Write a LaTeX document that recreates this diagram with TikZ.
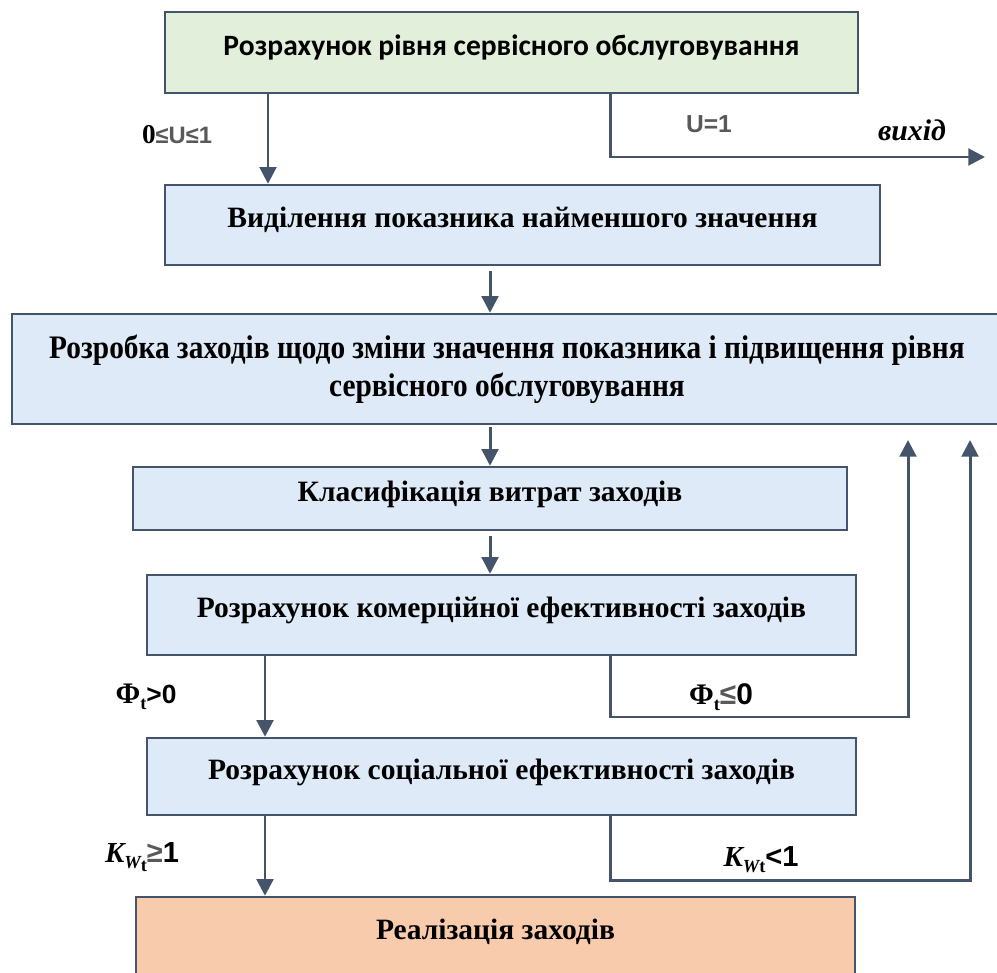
\documentclass[tikz,border=0pt]{standalone}
\usepackage{fontspec}
\setmainfont{Liberation Serif}
\setsansfont{Liberation Sans}
\newfontfamily\calibri{Carlito}
\usepackage{tikz}
\usetikzlibrary{arrows.meta}
\definecolor{edgeblue}{HTML}{44546A}
\definecolor{greenfill}{HTML}{E2EFDA}
\definecolor{bluefill}{HTML}{DEEAF7}
\definecolor{orangefill}{HTML}{F8CBAD}
\definecolor{signgray}{HTML}{595959}
\tikzstyle{block} = [rectangle, draw=edgeblue, line width=1.4pt, fill=bluefill, text centered, inner sep=0pt, font=\fontsize{16.8}{20}\selectfont\bfseries, text height=12pt, text depth=9pt]
\tikzstyle{line} = [draw=edgeblue, line width=1.7pt]
\tikzstyle{arrow} = [line, -{Stealth[inset=0pt, length=9.5pt, width=9.5pt]}]
\tikzstyle{cond} = [inner sep=0pt, font=\fontsize{14}{16}\selectfont\bfseries]
\newcommand{\sgn}[1]{{\sffamily\color{signgray}#1}}
\newcommand{\sub}[1]{\raisebox{-0.45ex}{\fontsize{10.5}{12}\selectfont #1}}

\begin{document}
\begin{tikzpicture}[x=0.02cm, y=-0.02cm]
		\useasboundingbox (0,0) rectangle (997,973);
		\node (Level)[block, fill=greenfill, minimum width=13.86cm, minimum height=1.62cm, font=\fontsize{16.8}{20}\selectfont\calibri\bfseries] at (511.5,52.5) {Розрахунок рівня сервісного обслуговування};
		\node (Lowest)[block, minimum width=14.3cm, minimum height=1.6cm] at (522.5,225) {Виділення показника найменшого значення};
		\node (Measures)[block, minimum width=19.8cm, minimum height=2.2cm, align=center, text height=, text depth=, font=\fontsize{16.7}{21.5}\selectfont\bfseries] at (507,369) {\scalebox{1}[1.12]{Розробка заходів щодо зміни значення показника і підвищення рівня}\\\scalebox{1}[1.12]{сервісного обслуговування}};
		\node (Costs)[block, minimum width=14.28cm, minimum height=1.26cm] at (490,498.5) {Класифікація витрат заходів};
		\node (Commercial)[block, minimum width=14.18cm, minimum height=1.6cm] at (501.5,615) {Розрахунок комерційної ефективності заходів};
		\node (Social)[block, minimum width=14.18cm, minimum height=1.54cm] at (501.5,776.5) {Розрахунок соціальної ефективності заходів};
		\node (Realize)[block, fill=orangefill, minimum width=14.38cm, minimum height=1.6cm] at (495.5,937) {Реалізація заходів};
		% turning points of the branches
		\coordinate (xmain) at (268,0);
		\coordinate (xmid) at (490,0);
		\coordinate (xleft) at (265,0);
		\coordinate (exit turn) at (610,157);
		\coordinate (exit) at (985,157);
		\coordinate (phi turn) at (610,717);
		\coordinate (phi back) at (908,440);
		\coordinate (kw turn) at (610,880);
		\coordinate (kw back) at (970,440);
		\draw [arrow] (Level.south -| xmain) -- (Lowest.north -| xmain);
		\draw [arrow] (Level.south -| exit turn) -- (exit turn) -- (exit);
		\draw [arrow, shorten <=3pt] (Lowest.south -| xmid) -- (Measures.north -| xmid);
		\draw [arrow, shorten <=1pt] (Measures.south -| xmid) -- (Costs.north -| xmid);
		\draw [arrow, shorten <=3pt] (Costs.south -| xmid) -- (Commercial.north -| xmid);
		\draw [arrow] (Commercial.south -| xleft) -- (Social.north -| xleft);
		\draw [arrow] (Commercial.south -| phi turn) -- (phi turn) -| (phi back);
		\draw [arrow] (Social.south -| xleft) -- (Realize.north -| xleft);
		\draw [arrow] (Social.south -| kw turn) -- (kw turn) -| (kw back);
		% branch conditions
		\node (Range)[cond, font=\fontsize{13}{15}\selectfont\bfseries] at (177,135) {\rmfamily\fontsize{15.5}{17}\selectfont 0\sgn{\fontsize{13.5}{15}\selectfont ≤U≤1}};
		\node (One)[cond] at (709,124) {\sgn{U=1}};
		\node (Out)[cond, font=\fontsize{17}{19}\selectfont\bfseries\itshape] at (912,130) {вихід};
		\node (Phi pos)[cond] at (146,697) {\fontsize{17}{19}\selectfont Φ\sub{t}\sffamily\fontsize{15}{17}\selectfont >0};
		\node (Phi neg)[cond] at (721,697) {\fontsize{17}{19}\selectfont Φ\sub{t}\sgn{≤}\sffamily 0};
		\node (Kw pos)[cond] at (142,857) {\fontsize{16.5}{18}\selectfont\itshape K\sub{W\raisebox{-0.4ex}{\upshape t}}\sgn{\upshape ≥}\sffamily\upshape 1};
		\node (Kw neg)[cond] at (761,860) {\fontsize{16.5}{18}\selectfont\itshape K\sub{W\upshape t}\sffamily\upshape <1};
	\end{tikzpicture}
\end{document}
